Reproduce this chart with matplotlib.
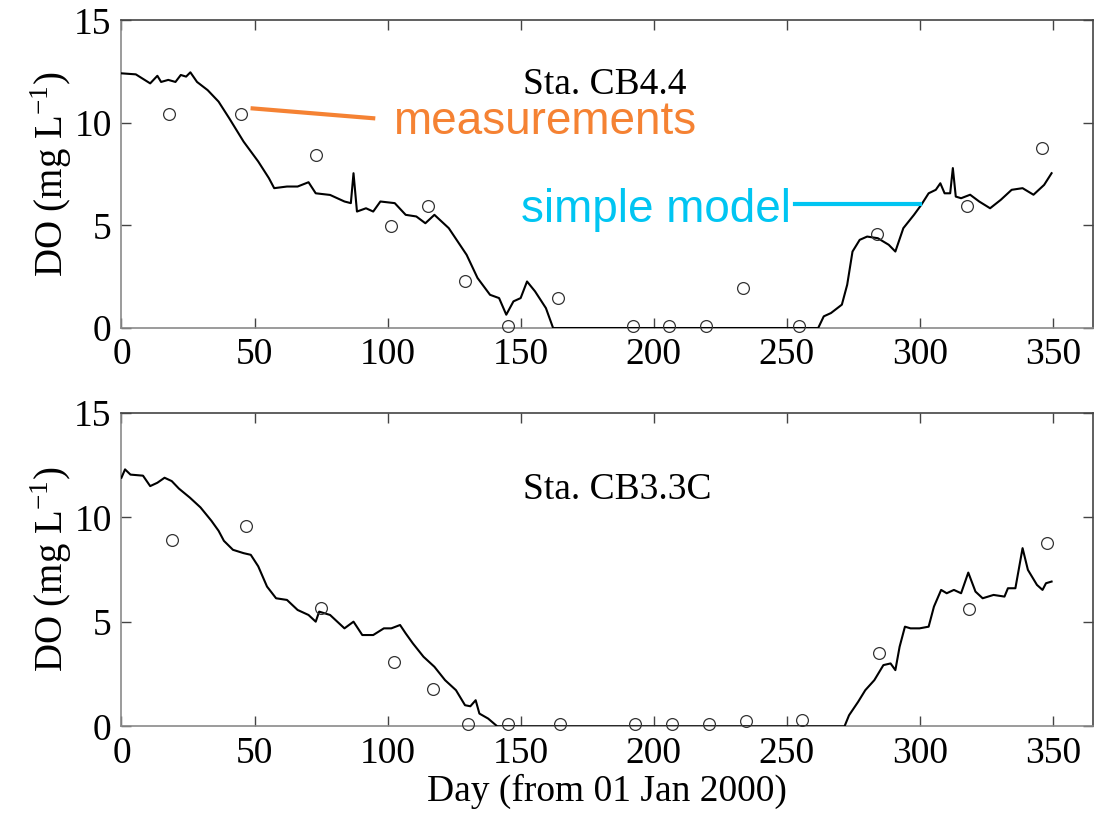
import matplotlib
matplotlib.use("Agg")
import matplotlib.pyplot as plt

# ---------------------------------------------------------------------------
# Sta. CB4.4 (top panel)
# ---------------------------------------------------------------------------
cb44_obs_day = [17.8, 44.9, 73.0, 101.1, 115.1, 129.2, 145.3, 163.9,
                192.1, 205.7, 219.8, 233.7, 254.6, 284.0, 317.9, 345.8]
cb44_obs_do = [10.44, 10.44, 8.46, 4.97, 5.97, 2.27, 0.08, 1.46,
               0.08, 0.08, 0.08, 1.95, 0.08, 4.6, 5.97, 8.78]

cb44_mod_day = [0, 5.4, 10.8, 13.5, 14.9, 17.6, 20.3, 22.3, 24.3, 25.9, 28.4,
                32.4, 36.5, 40.5, 45.9, 51.4, 55.4, 57.4, 62.2, 66.2, 70.3,
                73.0, 78.4, 83.8, 86.2, 87.2, 88.5, 91.9, 94.6, 97.3, 102.7,
                106.8, 110.8, 114.2, 117.6, 123.0, 129.7, 133.8, 138.5, 141.9,
                144.6, 147.3, 150.0, 152.4, 155.4, 159.5, 162.2, 261.8, 263.9,
                266.6, 270.7, 272.7, 274.7, 277.4, 280.2, 284.2, 288.3, 290.8,
                293.8, 297.8, 300.5, 303.3, 306.0, 307.7, 309.3, 311.4, 312.4,
                313.5, 315.5, 318.9, 322.3, 326.4, 330.4, 334.5, 338.6, 342.7,
                346.7, 349.5]
cb44_mod_do = [12.42, 12.37, 11.93, 12.3, 12.0, 12.1, 12.0, 12.34, 12.26, 12.47,
               12.0, 11.6, 11.04, 10.23, 9.09, 8.12, 7.31, 6.82, 6.9, 6.9, 7.11,
               6.57, 6.49, 6.17, 6.09, 7.55, 5.68, 5.84, 5.68, 6.17, 6.09, 5.52,
               5.44, 5.11, 5.52, 4.87, 3.57, 2.44, 1.62, 1.46, 0.65, 1.30, 1.46,
               2.27, 1.79, 0.97, 0.0, 0.0, 0.57, 0.73, 1.14, 2.11, 3.73, 4.3,
               4.46, 4.38, 4.06, 3.73, 4.87, 5.52, 6.0, 6.57, 6.74, 7.06, 6.57,
               6.57, 7.8, 6.41, 6.33, 6.5, 6.17, 5.84, 6.25, 6.74, 6.82, 6.5,
               6.98, 7.55]

# ---------------------------------------------------------------------------
# Sta. CB3.3C (bottom panel)
# ---------------------------------------------------------------------------
cb33_obs_day = [18.9, 46.8, 75.0, 102.3, 117.2, 130.1, 145.3, 164.9,
                192.9, 206.8, 220.7, 234.8, 255.7, 284.6, 318.6, 347.7]
cb33_obs_do = [8.9, 9.6, 5.65, 3.09, 1.78, 0.13, 0.13, 0.13,
               0.13, 0.13, 0.13, 0.24, 0.29, 3.49, 5.62, 8.77]

cb33_mod_day = [0, 1.35, 3.4, 8.1, 10.8, 13.5, 16.2, 18.9, 21.6, 25.7, 29.7,
                33.8, 36.5, 38.5, 41.9, 45.9, 48.6, 51.4, 54.7, 58.1, 62.2,
                66.2, 70.3, 73.0, 74.3, 78.4, 83.8, 87.2, 90.5, 94.6, 98.6,
                101.4, 104.7, 106.8, 109.5, 113.5, 117.6, 121.6, 125.7, 129.1,
                131.1, 133.1, 134.5, 137.8, 141.2, 271.7, 273.4, 276.8, 279.5,
                282.9, 286.3, 289.0, 290.8, 292.4, 294.4, 296.5, 299.9, 303.3,
                305.3, 308.0, 310.1, 312.8, 315.5, 318.2, 320.9, 323.6, 327.7,
                331.8, 333.1, 335.9, 338.6, 340.6, 344.0, 346.1, 347.4, 349.5]
cb33_mod_do = [11.9, 12.3, 12.05, 12.0, 11.5, 11.66, 11.9, 11.74, 11.38, 10.95,
               10.48, 9.84, 9.36, 8.88, 8.45, 8.29, 8.21, 7.66, 6.69, 6.13,
               6.05, 5.57, 5.33, 5.01, 5.49, 5.33, 4.69, 5.01, 4.37, 4.37, 4.69,
               4.69, 4.85, 4.45, 3.97, 3.33, 2.85, 2.21, 1.73, 1.01, 0.96, 1.25,
               0.61, 0.37, 0.0, 0.0, 0.53, 1.17, 1.73, 2.21, 2.93, 3.01, 2.69,
               3.81, 4.77, 4.69, 4.69, 4.77, 5.73, 6.53, 6.37, 6.53, 6.37, 7.36,
               6.45, 6.13, 6.29, 6.21, 6.61, 6.61, 8.53, 7.49, 6.77, 6.53, 6.85,
               6.93]

XTICKS = [0, 50, 100, 150, 200, 250, 300, 350]
YTICKS = [0, 5, 10, 15]
SERIF = ["Liberation Serif", "DejaVu Serif"]
SANS = ["Liberation Sans", "DejaVu Sans"]
ORANGE = "#F58233"
CYAN = "#00C5F2"

plt.rcParams["font.family"] = SERIF
plt.rcParams["mathtext.fontset"] = "custom"
plt.rcParams["mathtext.rm"] = "Liberation Serif"

fig = plt.figure(figsize=(11.07, 8.17), dpi=100)
ax_top = fig.add_axes([0.1097, 0.5985, 0.8775, 0.3765])
ax_bot = fig.add_axes([0.1097, 0.1110, 0.8775, 0.3835])


def style_axes(ax):
    ax.set_xlim(0, 365)
    ax.set_ylim(0, 15)
    ax.set_xticks(XTICKS)
    ax.set_yticks(YTICKS)
    ax.tick_params(direction="in", length=7, width=1.0, labelsize=27,
                   top=True, right=True, color="#444444", pad=7)
    for side in ("left", "bottom"):
        ax.spines[side].set_color("#8a8a8a")
    for side in ("top", "right"):
        ax.spines[side].set_color("#444444")
    for sp in ax.spines.values():
        sp.set_linewidth(1.2)
    ax.set_ylabel(r"DO (mg L$^{\mathrm{-1}}$)", fontsize=28, labelpad=0)


for ax, mday, mdo, oday, odo in [
    (ax_top, cb44_mod_day, cb44_mod_do, cb44_obs_day, cb44_obs_do),
    (ax_bot, cb33_mod_day, cb33_mod_do, cb33_obs_day, cb33_obs_do),
]:
    ax.plot(mday, mdo, color="black", lw=1.5, zorder=3)
    ax.plot(oday, odo, "o", ms=8.5, mfc="none", mec="#333333", mew=0.9,
            ls="none", zorder=4, clip_on=False)
    style_axes(ax)

ax_top.text(151, 11.4, "Sta. CB4.4", fontsize=27, ha="left", va="baseline")
ax_bot.text(151, 10.9, "Sta. CB3.3C", fontsize=27, ha="left", va="baseline")
ax_bot.set_xlabel("Day (from 01 Jan 2000)", fontsize=27, labelpad=2)

# annotation callouts on the top panel
ax_top.plot([49.3, 94.6], [10.71, 10.23], color=ORANGE, lw=3, zorder=5)
ax_top.text(102, 9.46, "measurements", color=ORANGE, fontsize=33,
            family=SANS, ha="left", va="baseline")
ax_top.plot([253, 299.9], [6.05, 6.05], color=CYAN, lw=3, zorder=5)
ax_top.text(251.4, 5.19, "simple model", color=CYAN, fontsize=33,
            family=SANS, ha="right", va="baseline")

fig.savefig("out.png", dpi=100)
